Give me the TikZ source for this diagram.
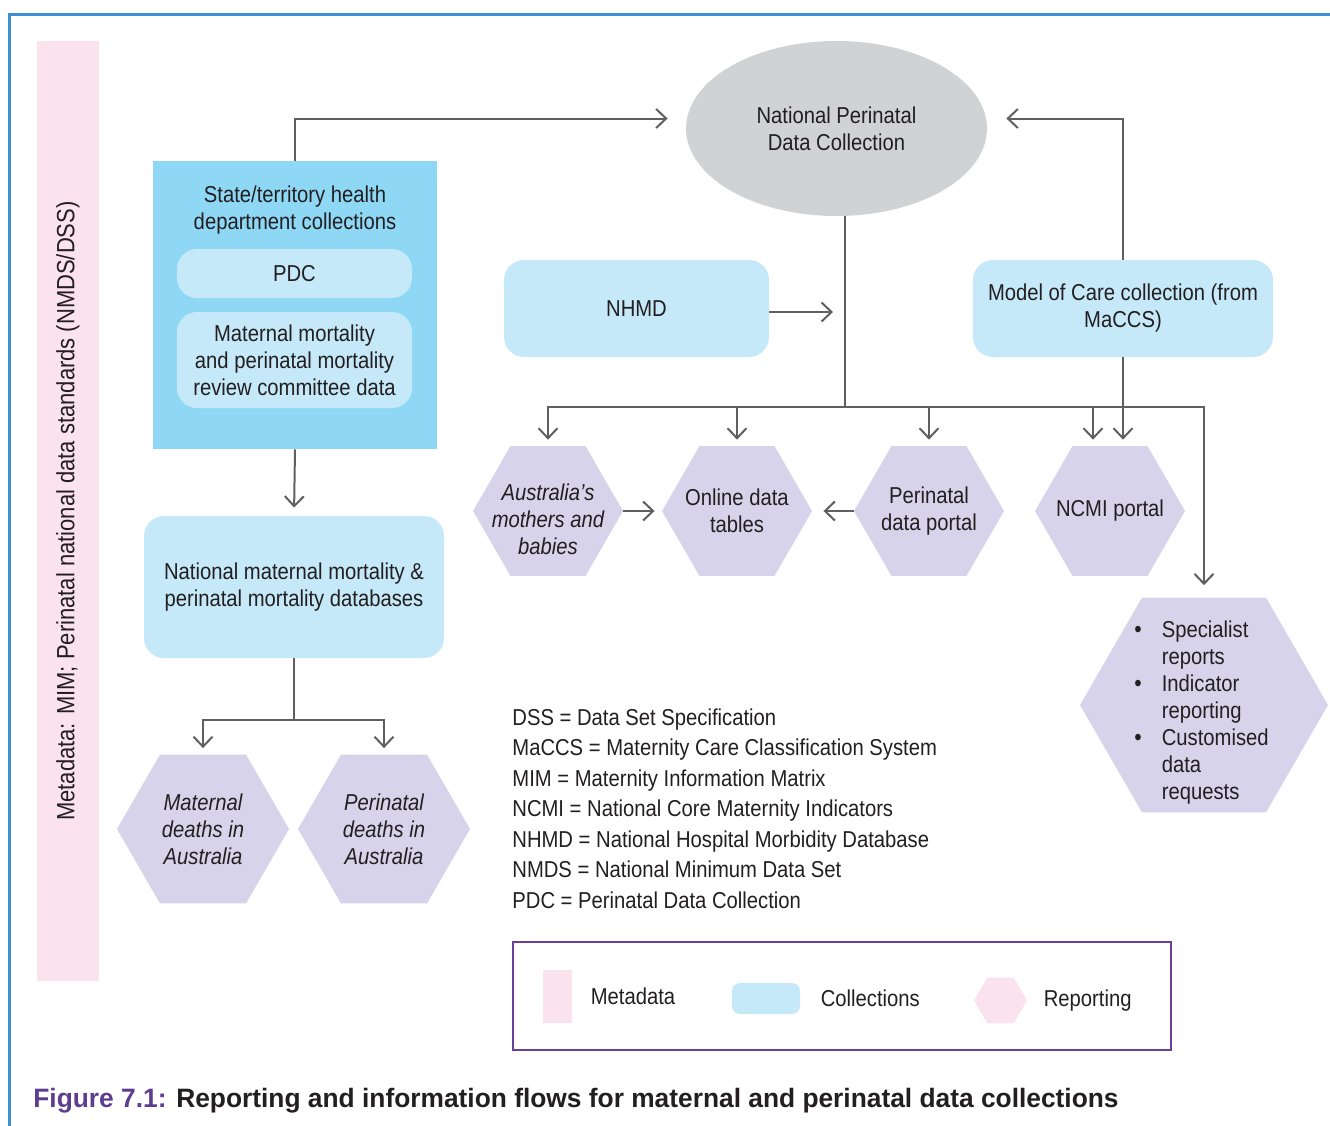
\documentclass[tikz,border=0pt]{standalone}
\usepackage{fontspec}
\setmainfont{Liberation Sans}[FakeStretch=0.88]
\newfontfamily\capfont{Liberation Sans}[FakeStretch=0.99]
\usepackage{xcolor}
\definecolor{framebl}{HTML}{3F8FD4}
\definecolor{metapink}{HTML}{FBE3EE}
\definecolor{stateblue}{HTML}{8ED8F6}
\definecolor{collblue}{HTML}{C5E9F8}
\definecolor{hexlilac}{HTML}{D6D3EA}
\definecolor{ellgrey}{HTML}{D1D2D4}
\definecolor{argrey}{HTML}{5F5F5F}
\definecolor{legpurple}{HTML}{6A3FA0}
\definecolor{capviolet}{HTML}{5C3D8F}
\definecolor{inkgrey}{HTML}{231F20}
\usetikzlibrary{arrows.meta,positioning,shapes.geometric,calc}
\tikzset{
  nb/.style={align=center, text=inkgrey, font=\fontsize{11.5}{13.5}\selectfont, inner sep=0pt},
  nbi/.style={nb, font=\fontsize{11.5}{13.5}\selectfont\itshape},
  ncoll/.style={nb, fill=collblue, rounded corners=10pt},
  nstate/.style={nb, fill=stateblue},
  nell/.style={nb, ellipse, fill=ellgrey},
  nhex/.style={regular polygon, regular polygon sides=6, fill=hexlilac, inner sep=0pt},
  ar/.style={-{Straight Barb[length=5pt,width=9.5pt]}, draw=argrey, line width=1pt, shorten >=3pt},
  ln/.style={draw=argrey, line width=1pt},
}

\begin{document}
\begin{tikzpicture}[x=0.5pt, y=-0.5pt, node distance=8pt]
  \useasboundingbox (0,0) rectangle (1330,1126);
  \draw[draw=framebl, line width=1.5pt] (1345,14) -- (9,14) -- (9,1140);

  \node[fill=metapink, minimum width=31pt, minimum height=470pt, inner sep=0pt] (meta) at (68,511) {};
  \node[nb, rotate=90, font=\fontsize{12.5}{15}\selectfont] (metatxt) at (meta) {Metadata: MIM; Perinatal national data standards (NMDS/DSS)};

  \node[nstate, minimum width=142pt, minimum height=144pt] (state) at (295,305) {};
  \node[nb] (statett) at (295,210.5) {State/territory health\\department collections};
  \node[ncoll, minimum width=117.5pt, minimum height=24.5pt] (pdc) at (294.5,273.5) {PDC};
  \node[ncoll, minimum width=117.5pt, minimum height=48pt] (mmrc) at (294.5,360) {Maternal mortality\\and perinatal mortality\\review committee data};
  \node[ncoll, minimum width=150pt, minimum height=71pt] (natl) at (294,587) {National maternal mortality \&\\perinatal mortality databases};

  \node[nell, minimum width=150.5pt, minimum height=87.5pt] (npdc) at (836.5,128.5) {National Perinatal\\Data Collection};
  \node[ncoll, minimum width=132.5pt, minimum height=48.5pt] (nhmd) at (636.5,308.5) {NHMD};
  \node[ncoll, minimum width=150pt, minimum height=48.5pt] (moc) at (1123,308.5) {Model of Care collection (from\\MaCCS)};

  \node[nhex, minimum size=75pt] (amb) at (548,511) {};
  \node[nbi] (ambtxt) at (548,519.5) {Australia’s\\mothers and\\babies};
  \node[nhex, minimum size=75pt] (online) at (737,511) {};
  \node[nb] (onlinetxt) at (online) {Online data\\tables};
  \node[nhex, minimum size=75pt] (portal) at (929,511) {};
  \node[nb] (portaltxt) at (portal) {Perinatal\\data portal};
  \node[nhex, minimum size=75pt] (ncmi) at (1110,511) {};
  \node[nb] (ncmitxt) at (ncmi) {NCMI portal};
  \node[nhex, minimum size=124pt] (specl) at (1204,705) {};
  \node[nb, anchor=west] (specltxt) at (1134,713) {\begin{tabular}{@{}l@{\hspace{10pt}}l@{}}
    {\large\textbullet} & Specialist\\ & reports\\
    {\large\textbullet} & Indicator\\ & reporting\\
    {\large\textbullet} & Customised\\ & data\\ & requests
  \end{tabular}};

  \node[nhex, minimum size=86pt] (matd) at (203,829) {};
  \node[nbi] (matdtxt) at (matd) {Maternal\\deaths in\\Australia};
  \node[nhex, minimum size=86pt] (perd) at (384,829) {};
  \node[nbi] (perdtxt) at (perd) {Perinatal\\deaths in\\Australia};

  \node[nb, align=left, anchor=west, font=\fontsize{11.5}{15.25}\selectfont] (gloss) at (512,808.5) {DSS = Data Set Specification\\
    MaCCS = Maternity Care Classification System\\
    MIM = Maternity Information Matrix\\
    NCMI = National Core Maternity Indicators\\
    NHMD = National Hospital Morbidity Database\\
    NMDS = National Minimum Data Set\\
    PDC = Perinatal Data Collection};

  \node[draw=legpurple, line width=0.8pt, minimum width=329pt, minimum height=54pt] (legend) at (842,996) {};
  \node[fill=metapink, minimum width=14.5pt, minimum height=26.5pt, inner sep=0pt] (legmeta) at (557.5,996.5) {};
  \node[nb, right=9pt of legmeta] (legmetatxt) {Metadata};
  \node[ncoll, minimum width=34pt, minimum height=15.5pt, rounded corners=4pt] (legcoll) at (766,998.5) {};
  \node[nb, right=10pt of legcoll] (legcolltxt) {Collections};
  \node[nhex, fill=metapink, minimum size=26.5pt] (legrep) at (1000.5,1000.5) {};
  \node[nb, right=8pt of legrep] (legreptxt) {Reporting};

  \node[nb, anchor=west, font=\capfont\fontsize{13.3}{15}\selectfont\bfseries] (caption) at (33,1101) {\textcolor{capviolet}{Figure 7.1:} Reporting and information flows for maternal and perinatal data collections};

  \coordinate (bus) at (845,407);
  \coordinate (split) at (294,720);
  \draw[ar, shorten >=9pt] (state.north) |- ([yshift=5pt]npdc.west);
  \draw[ar, shorten >=9.5pt] (moc.north) |- ([yshift=5pt]npdc.east);
  \draw[ar, shorten >=4pt] (state.south) -- (natl.north);
  \draw[ln] (natl.south) -- (split);
  \draw[ar] (split) -| (matd.north);
  \draw[ar] (split) -| (perd.north);
  \draw[ln] (npdc.south -| bus) -- (bus);
  \draw[ar, shorten >=6pt] ([yshift=-1.75pt]nhmd.east) -- ([yshift=-1.75pt]nhmd.east -| bus);
  \draw[ar] (bus) -| (amb.north);
  \draw[ar] (bus) -| (online.north);
  \draw[ar] (bus) -| (portal.north);
  \draw[ar] (bus) -| ([xshift=-8.5pt]ncmi.north);
  \draw[ar, shorten >=6pt] (bus) -| (specl.north);
  \draw[ar] (moc.south) -- (moc.south |- ncmi.north);
  \draw[ar, shorten >=3.5pt] (amb.east) -- (online.west);
  \draw[ar, shorten >=5.5pt] (portal.west) -- (online.east);
\end{tikzpicture}
\end{document}
